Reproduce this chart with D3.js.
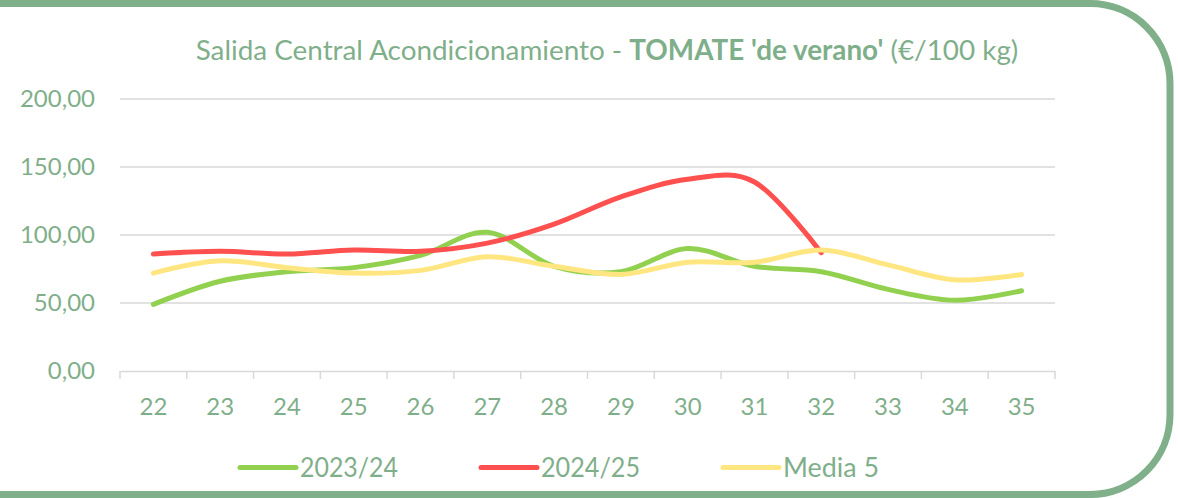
<!DOCTYPE html>
<html>
<head>
<meta charset="utf-8">
<script src="https://cdn.jsdelivr.net/npm/d3@7"></script>
<style>
  body { margin: 0; background: #fff; }
  svg { display: block; font-family: Lato, 'Open Sans', sans-serif; }
</style>
</head>
<body>
<div id="chart"></div>
<script>
const weeks = ['22', '23', '24', '25', '26', '27', '28', '29', '30', '31', '32', '33', '34', '35'];
const season2324 = [49, 66, 73, 76, 85, 102, 77, 73, 90, 77, 73, 60, 52, 59];
const season2425 = [86, 88, 86, 89, 88, 94, 108, 128, 141, 139, 87];
const media5 = [72, 81, 76, 72, 74, 84, 77, 71, 80, 80, 89, 78, 67, 71];
const yTicks = [0, 50, 100, 150, 200];

const series = [
  { name: '2023/24', values: season2324, color: '#92d050' },
  { name: '2024/25', values: season2425, color: '#ff5050' },
  { name: 'Media 5', values: media5, color: '#ffe680' }
];

const width = 1178, height = 498;
const textColor = '#7faf8a';
const frameColor = '#80b08a';
const margin = { top: 99, right: 123, bottom: 127, left: 120 };

const svg = d3.select('#chart').append('svg')
  .attr('width', width)
  .attr('height', height);

// frame with rounded right corners
const r = 80, fx = 1170, fy1 = 3.5, fy2 = 494.5;
svg.append('path')
  .attr('d', `M-5,${fy1} H${fx - r} A${r},${r} 0 0 1 ${fx},${fy1 + r} V${fy2 - r} A${r},${r} 0 0 1 ${fx - r},${fy2} H-5`)
  .attr('fill', 'none')
  .attr('stroke', frameColor)
  .attr('stroke-width', 7);

const x = d3.scaleBand()
  .domain(weeks)
  .range([margin.left, width - margin.right]);

const y = d3.scaleLinear()
  .domain([0, 200])
  .range([height - margin.bottom, margin.top]);

// gridlines
svg.append('g')
  .selectAll('line')
  .data(yTicks.filter(d => d > 0))
  .join('line')
  .attr('x1', margin.left)
  .attr('x2', width - margin.right)
  .attr('y1', d => y(d))
  .attr('y2', d => y(d))
  .attr('stroke', '#d9d9d9')
  .attr('stroke-width', 1.5);

// y axis labels
const fmt = d => d3.format('.2f')(d).replace('.', ',');
svg.append('g')
  .selectAll('text')
  .data(yTicks)
  .join('text')
  .attr('x', 95)
  .attr('y', d => y(d))
  .attr('dy', '0.33em')
  .attr('text-anchor', 'end')
  .attr('fill', textColor)
  .attr('font-size', 24)
  .text(fmt);

// x axis
const xAxis = svg.append('g')
  .attr('transform', `translate(0,${y(0)})`)
  .call(d3.axisBottom(x).tickSize(0).tickPadding(27));
xAxis.select('.domain')
  .attr('stroke', '#d9d9d9')
  .attr('stroke-width', 1.5);
xAxis.selectAll('text')
  .attr('fill', textColor)
  .attr('font-size', 24)
  .attr('font-family', 'Lato, sans-serif');

// tick marks at category boundaries
const bounds = weeks.map(w => x(w)).concat([x(weeks[weeks.length - 1]) + x.bandwidth()]);
svg.append('g')
  .selectAll('line')
  .data(bounds)
  .join('line')
  .attr('x1', d => d)
  .attr('x2', d => d)
  .attr('y1', y(0))
  .attr('y2', y(0) + 8)
  .attr('stroke', '#d9d9d9')
  .attr('stroke-width', 1.5);

// lines
const line = d3.line()
  .x((d, i) => x(weeks[i]) + x.bandwidth() / 2)
  .y(d => y(d))
  .curve(d3.curveCardinal.tension(0));

svg.append('g')
  .selectAll('path')
  .data(series)
  .join('path')
  .attr('d', d => line(d.values))
  .attr('fill', 'none')
  .attr('stroke', d => d.color)
  .attr('stroke-width', 5)
  .attr('stroke-linecap', 'round')
  .attr('stroke-linejoin', 'round');

// title
const title = svg.append('text')
  .attr('x', 607)
  .attr('y', 60)
  .attr('text-anchor', 'middle')
  .attr('fill', textColor)
  .attr('font-size', 26);
title.append('tspan').text('Salida Central Acondicionamiento - ');
title.append('tspan').attr('font-weight', 'bold').text("TOMATE 'de verano'");
title.append('tspan').text(' (€/100 kg)');
// fit the title to the reference width
const tw = title.node().getComputedTextLength();
title.attr('font-size', 26 * 823 / tw);

// legend
const legendX = [240, 481, 723];
const legendW = [98, 99, 96];
const legend = svg.append('g')
  .selectAll('g')
  .data(series)
  .join('g')
  .attr('transform', (d, i) => `translate(${legendX[i]},467.5)`);
legend.append('line')
  .attr('x1', 0)
  .attr('x2', 56)
  .attr('stroke', d => d.color)
  .attr('stroke-width', 5)
  .attr('stroke-linecap', 'round');
legend.append('text')
  .attr('x', 60)
  .attr('dy', '0.35em')
  .attr('fill', textColor)
  .attr('font-size', 27)
  .attr('textLength', (d, i) => legendW[i])
  .attr('lengthAdjust', 'spacingAndGlyphs')
  .text(d => d.name);
</script>
</body>
</html>
